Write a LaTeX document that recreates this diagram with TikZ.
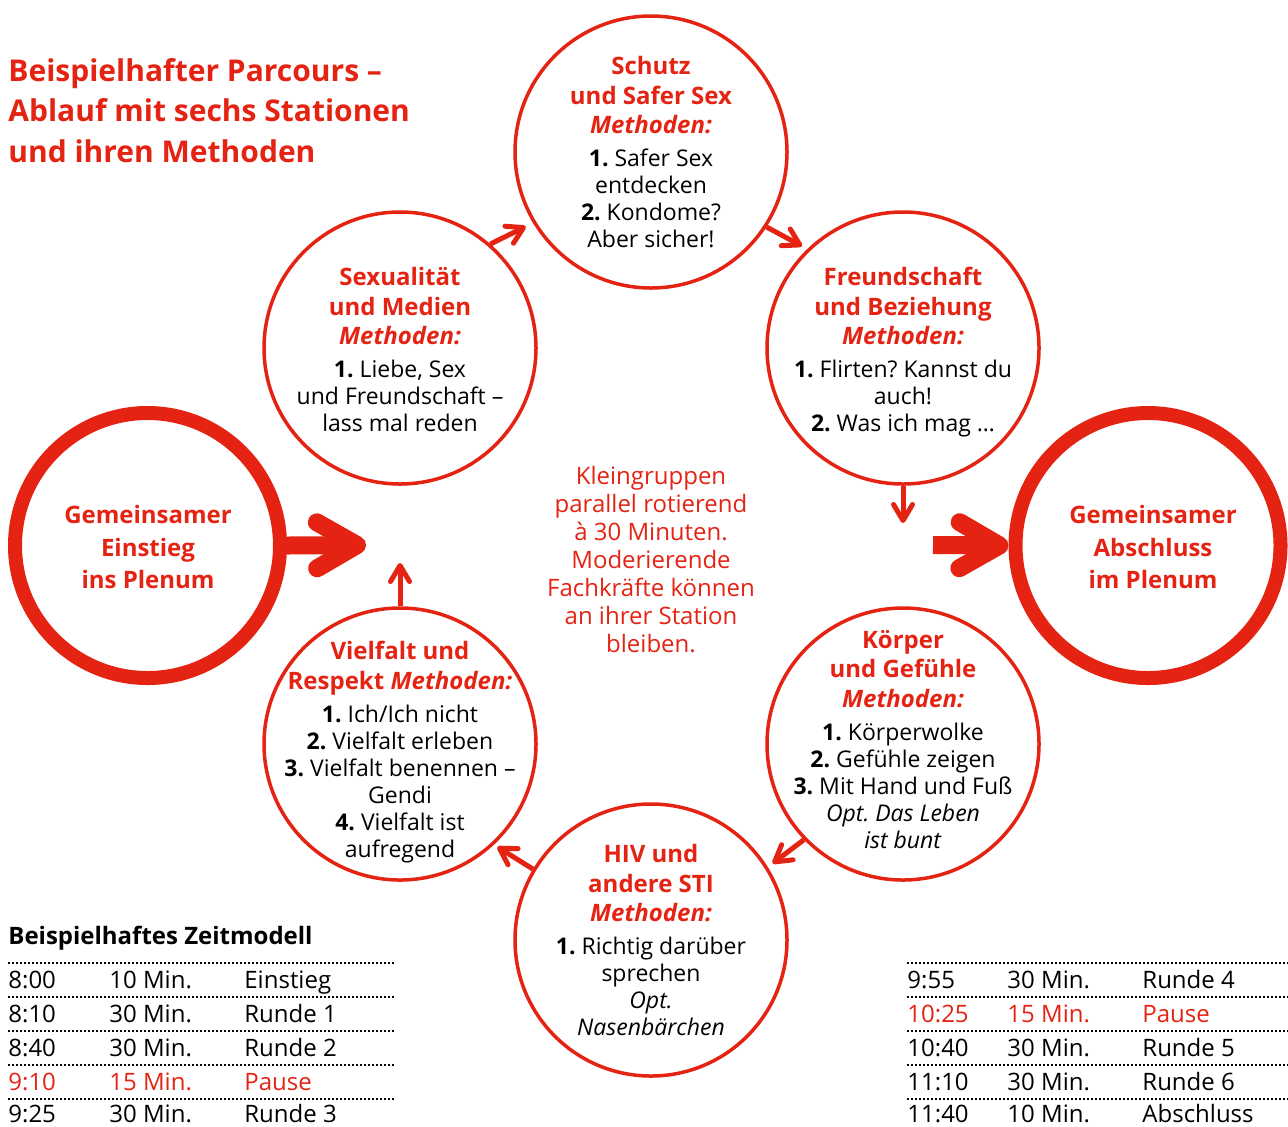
\documentclass[tikz,border=0pt]{standalone}
\usepackage{fontspec}
\setmainfont{Open Sans}
\frenchspacing
\usetikzlibrary{arrows.meta, calc}
\definecolor{parcred}{HTML}{E42313}
\newcommand{\hd}[1]{\textcolor{parcred}{\bfseries\fontsize{12}{14}\selectfont #1}}
\newcommand{\hdi}[1]{\textcolor{parcred}{\bfseries\itshape\fontsize{12}{14}\selectfont #1}}
\tikzset{
	x=0.5pt, y=-0.5pt, % one unit is one pixel of the layout
	station/.style={circle, draw=parcred, line width=1.75pt, minimum size=136pt, inner sep=0pt}, % the six stations
	plenum/.style={circle, draw=parcred, line width=7pt, minimum size=132.5pt, inner sep=0pt}, % start and end
	stext/.style={align=center, anchor=north, inner sep=0pt, font=\fontsize{11.5}{13.5}\selectfont},
	ptext/.style={align=center, anchor=north, inner sep=0pt, text=parcred, font=\bfseries\fontsize{12}{16.25}\selectfont},
	flow/.style={draw=parcred, line width=2.5pt, -{Straight Barb[round, length=8pt, width=9.5pt]}},
	bigflow/.style={draw=parcred, line width=9pt, -{Straight Barb[round, length=20pt, width=23pt]}},
	row/.style={anchor=base west, inner sep=0pt, font=\fontsize{12}{14}\selectfont},
	pause/.style={row, text=parcred},
	rule/.style={line width=0.75pt, dash pattern=on 0.75pt off 1.25pt},
}

\begin{document}
\begin{tikzpicture}
	\useasboundingbox (0,0) rectangle (1288,1126);

	% title
	\node[anchor=north west, align=left, inner sep=0pt, text=parcred,
		font=\bfseries\fontsize{15}{20.25}\selectfont] (title) at (8,58)
		{Beispielhafter Parcours –\\Ablauf mit sechs Stationen\\und ihren Methoden};

	% start and end in the plenum
	\node[plenum] (einstieg) at (147.5,545.5) {};
	\node[plenum] (abschluss) at (1148,545.5) {};
	\node[ptext] (einstiegt) at (148,505) {Gemeinsamer\\Einstieg\\ins Plenum};
	\node[ptext] (abschlusst) at (1153,505) {Gemeinsamer\\Abschluss\\im Plenum};

	% stations
	\node[station] (schutz) at (651,152) {};
	\node[station] (sex) at (400,348) {};
	\node[station] (freund) at (903,348) {};
	\node[station] (vielfalt) at (400,744) {};
	\node[station] (koerper) at (903,744) {};
	\node[station] (hiv) at (651,940) {};

	\node[stext] (schutzt) at (651,56) {\hd{Schutz}\\[1.25pt]\hd{und Safer Sex}\\[1.25pt]\hdi{Methoden:}\\[3pt]
		\textbf{1.} Safer Sex\\entdecken\\\textbf{2.} Kondome?\\Aber sicher!};
	\node[stext] (sext) at (400,267) {\hd{Sexualität}\\[1.25pt]\hd{und Medien}\\[1.25pt]\hdi{Methoden:}\\[3pt]
		\textbf{1.} Liebe, Sex\\und Freundschaft –\\lass mal reden};
	\node[stext] (freundt) at (903,267) {\hd{Freundschaft}\\[1.25pt]\hd{und Beziehung}\\[1.25pt]\hdi{Methoden:}\\[3pt]
		\textbf{1.} Flirten? Kannst du\\auch!\\\textbf{2.} Was ich mag …};
	\node[stext] (vielfaltt) at (400,641) {\hd{Vielfalt und}\\[1.25pt]\hd{Respekt \textit{Methoden:}}\\[3pt]
		\textbf{1.} Ich/Ich nicht\\\textbf{2.} Vielfalt erleben\\\textbf{3.} Vielfalt benennen –\\Gendi\\\textbf{4.} Vielfalt ist\\aufregend};
	\node[stext] (koerpert) at (903,630) {\hd{Körper}\\[1.25pt]\hd{und Gefühle}\\[1.25pt]\hdi{Methoden:}\\[3pt]
		\textbf{1.} Körperwolke\\\textbf{2.} Gefühle zeigen\\\textbf{3.} Mit Hand und Fuß\\\textit{Opt. Das Leben}\\\textit{ist bunt}};
	\node[stext] (hivt) at (651,844) {\hd{HIV und}\\[1.25pt]\hd{andere STI}\\[1.25pt]\hdi{Methoden:}\\[3pt]
		\textbf{1.} Richtig darüber\\sprechen\\\textit{Opt.}\\\textit{Nasenbärchen}};

	\node[stext, text=parcred, font=\fontsize{12}{14}\selectfont] (mitte) at (651,466)
		{Kleingruppen\\parallel rotierend\\à 30 Minuten.\\Moderierende\\Fachkräfte können\\an ihrer Station\\bleiben.};

	% rotation
	\coordinate (fdown) at (903,523);
	\coordinate (vup) at (400,563);
	\coordinate (einend) at (366,545);
	\coordinate (abstart) at (933,545);
	\draw[flow, shorten >=4pt] (sex.49) -- (schutz.211);
	\draw[flow, shorten >=3pt] (schutz.-33) -- (freund.134);
	\draw[flow] (freund.south) -- (fdown);
	\draw[flow, shorten >=3pt] (koerper.224) -- (hiv.32);
	\draw[flow, shorten >=2pt] (hiv.149) -- (vielfalt.-47);
	\draw[flow] (vielfalt.north) -- (vup);
	\draw[bigflow] (einstieg.east) -- (einend);
	\draw[bigflow] (abstart) -- (abschluss.west);

	% time model
	\node[anchor=base west, inner sep=0pt, font=\bfseries\fontsize{12}{14}\selectfont] (zeit) at (8,944) {Beispielhaftes Zeitmodell};
	\draw[rule] (8,963) -- (395,963) (8,997) -- (395,997) (8,1031) -- (395,1031) (8,1065) -- (395,1065) (8,1099) -- (395,1099);
	\draw[rule] (907,963) -- (1288,963) (907,997) -- (1288,997) (907,1031) -- (1288,1031) (907,1065) -- (1288,1065) (907,1099) -- (1288,1099);
	\path (8,988) node[row] (z1a) {8:00} (109,988) node[row] (z1b) {10 Min.} (244,988) node[row] (z1c) {Einstieg}
		(8,1022) node[row] (z2a) {8:10} (109,1022) node[row] (z2b) {30 Min.} (244,1022) node[row] (z2c) {Runde 1}
		(8,1056) node[row] (z3a) {8:40} (109,1056) node[row] (z3b) {30 Min.} (244,1056) node[row] (z3c) {Runde 2}
		(8,1090) node[pause] (z4a) {9:10} (109,1090) node[pause] (z4b) {15 Min.} (244,1090) node[pause] (z4c) {Pause}
		(8,1122) node[row] (z5a) {9:25} (109,1122) node[row] (z5b) {30 Min.} (244,1122) node[row] (z5c) {Runde 3};
	\path (907,988) node[row] (z6a) {9:55} (1007,988) node[row] (z6b) {30 Min.} (1142,988) node[row] (z6c) {Runde 4}
		(907,1022) node[pause] (z7a) {10:25} (1007,1022) node[pause] (z7b) {15 Min.} (1142,1022) node[pause] (z7c) {Pause}
		(907,1056) node[row] (z8a) {10:40} (1007,1056) node[row] (z8b) {30 Min.} (1142,1056) node[row] (z8c) {Runde 5}
		(907,1090) node[row] (z9a) {11:10} (1007,1090) node[row] (z9b) {30 Min.} (1142,1090) node[row] (z9c) {Runde 6}
		(907,1122) node[row] (z10a) {11:40} (1007,1122) node[row] (z10b) {10 Min.} (1142,1122) node[row] (z10c) {Abschluss};
\end{tikzpicture}
\end{document}
